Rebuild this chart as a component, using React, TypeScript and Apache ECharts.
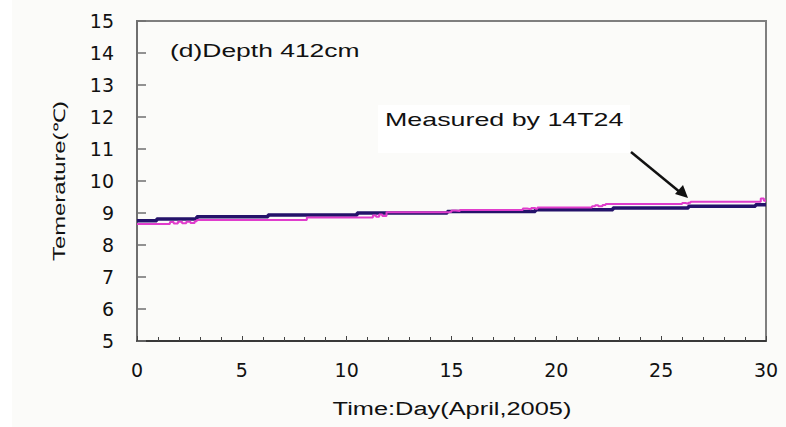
import React, { useEffect, useRef } from "react";
import * as echarts from "echarts";

// Day of month (April 2005) and soil temperature (°C) at 412 cm depth
const referenceSeries: [number, number][] = [
  [0, 8.76], [0.94, 8.81], [2.85, 8.88], [6.25, 8.94], [10.5, 9.0],
  [14.8, 9.05], [19.0, 9.1], [22.7, 9.16], [26.3, 9.21], [29.5, 9.26], [30, 9.26],
];

const sensor14T24: [number, number][] = [
  [0, 8.66], [1.57, 8.72], [1.75, 8.67], [1.95, 8.73], [2.15, 8.68], [2.35, 8.73],
  [2.55, 8.69], [2.75, 8.74], [2.85, 8.78], [8.1, 8.86], [11.25, 8.92], [11.4, 8.88],
  [11.55, 8.95], [11.7, 8.91], [11.9, 9.02], [14.85, 9.04], [15.0, 9.08], [15.2, 9.06],
  [15.4, 9.09], [18.4, 9.14], [18.6, 9.12], [18.8, 9.16], [19.0, 9.13], [19.1, 9.17],
  [21.7, 9.21], [21.85, 9.24], [22.0, 9.21], [22.2, 9.25], [22.35, 9.28], [26.0, 9.31],
  [26.15, 9.29], [26.3, 9.32], [26.4, 9.35], [29.75, 9.45], [29.9, 9.38], [30, 9.38],
];

const xTicks = { min: 0, max: 30, step: 5 };
const yTicks = { min: 5, max: 15, step: 1 };

const titleText = "(d)Depth 412cm";
const calloutText = "Measured by 14T24";
const xAxisTitle = "Time:Day(April,2005)";
const yAxisTitle = "Temerature(℃)";

const FONT = "'Liberation Sans', Arial, sans-serif";
const TICK_FONT = "'DejaVu Sans', sans-serif";

export default function App() {
  const ref = useRef<HTMLDivElement>(null);

  useEffect(() => {
    if (!ref.current) return;
    const chart = echarts.init(ref.current, undefined, { renderer: "svg" });
    chart.setOption({
      animation: false,
      backgroundColor: "#fbfbf9",
      textStyle: { fontFamily: FONT },
      grid: {
        left: 137,
        right: 20,
        top: 21,
        bottom: 86,
        show: true,
        borderColor: "#7f7f7f",
        borderWidth: 2,
        backgroundColor: "transparent",
      },
      xAxis: {
        type: "value",
        min: xTicks.min,
        max: xTicks.max,
        interval: xTicks.step,
        axisLine: { show: true, lineStyle: { color: "#222", width: 1.5 } },
        axisTick: { show: true, inside: true, length: 5, lineStyle: { color: "#444" } },
        minorTick: { show: true, splitNumber: 5, length: 4, lineStyle: { color: "#444" } },
        axisLabel: { fontSize: 19, color: "#111", margin: 19, fontFamily: TICK_FONT },
        splitLine: { show: false },
      },
      yAxis: {
        type: "value",
        min: yTicks.min,
        max: yTicks.max,
        interval: yTicks.step,
        axisLine: { show: true, lineStyle: { color: "#6f6f6f", width: 2 } },
        axisTick: { show: true, inside: true, length: 9, lineStyle: { color: "#6f6f6f", width: 1.5 } },
        axisLabel: { fontSize: 19, color: "#111", margin: 23, fontFamily: TICK_FONT },
        splitLine: { show: false },
      },
      series: [
        {
          type: "line",
          name: "reference",
          step: "end",
          data: referenceSeries,
          showSymbol: false,
          lineStyle: { color: "#24126a", width: 3.5 },
          z: 2,
        },
        {
          type: "line",
          name: "14T24",
          step: "end",
          data: sensor14T24,
          showSymbol: false,
          lineStyle: { color: "#e03ccc", width: 2 },
          z: 3,
        },
      ],
      graphic: [
        {
          type: "rect",
          shape: { x: 0, y: 0, width: 12, height: 427 },
          style: { fill: "#ffffff" },
          z: -1,
        },
        {
          type: "text",
          x: 170,
          y: 42,
          scaleX: 1.47,
          style: { text: titleText, fill: "#111", font: `18px ${FONT}` },
        },
        {
          type: "rect",
          shape: { x: 378, y: 105, width: 252, height: 48 },
          style: { fill: "#ffffff" },
          z: 10,
        },
        {
          type: "text",
          x: 385,
          y: 111,
          scaleX: 1.49,
          style: { text: calloutText, fill: "#111", font: `18px ${FONT}` },
          z: 11,
        },
        {
          type: "line",
          shape: { x1: 631, y1: 152, x2: 681, y2: 193 },
          style: { stroke: "#111", lineWidth: 2.5 },
          z: 11,
        },
        {
          type: "polygon",
          shape: { points: [[688, 198], [675, 194], [683, 185]] },
          style: { fill: "#111" },
          z: 11,
        },
        {
          type: "text",
          x: 452,
          y: 409,
          scaleX: 1.41,
          style: {
            text: xAxisTitle,
            fill: "#111",
            font: `18px ${FONT}`,
            align: "center",
            verticalAlign: "middle",
          },
        },
        {
          type: "text",
          x: 59,
          y: 181,
          rotation: Math.PI / 2,
          scaleX: 1.49,
          style: {
            text: yAxisTitle,
            fill: "#111",
            font: `16px ${FONT}`,
            align: "center",
            verticalAlign: "middle",
          },
        },
      ],
    });
    return () => chart.dispose();
  }, []);

  return (
    <div
      ref={ref}
      style={{ position: "fixed", left: 0, top: 0, width: 786, height: 427 }}
    />
  );
}
